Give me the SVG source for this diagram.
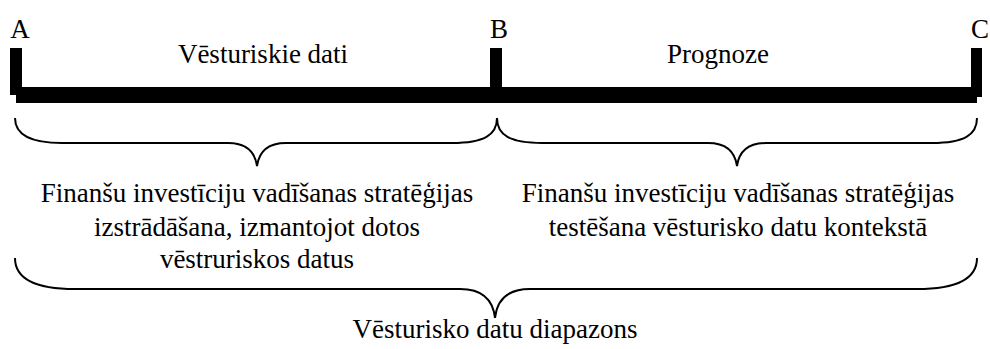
<svg xmlns="http://www.w3.org/2000/svg" width="990" height="349" viewBox="0 0 990 349">
<style>
text{font-family:"Liberation Serif","Times New Roman",serif;font-size:27px;fill:#000;text-anchor:middle}
.br{fill:none;stroke:#000;stroke-width:2}
</style>
<rect width="990" height="349" fill="#fff"/>
<g id="timeline">
<rect x="16" y="87" width="961" height="16" fill="#000"/>
<rect x="10" y="48" width="12" height="47" fill="#000"/>
<rect x="490" y="48" width="12" height="48" fill="#000"/>
<rect x="971" y="48" width="11" height="49" fill="#000"/>
</g>
<g id="labelA"><text x="20" y="38">A</text></g>
<g id="labelB"><text x="499" y="38">B</text></g>
<g id="labelC"><text x="980" y="38">C</text></g>
<g id="hist"><text x="263" y="63">Vēsturiskie dati</text></g>
<g id="prog"><text x="718" y="63">Prognoze</text></g>
<g id="connectors">
<path class="br" d="M15,118 C15,135 30,143 62,143 L228,143 C246,143 255,152 257,166 C259,152 268,143 286,143 L452,143 C484,143 497,135 497,118"/>
<path class="br" d="M497,118 C497,135 510,143 542,143 L708,143 C726,143 735,152 737,166 C739,152 748,143 766,143 L932,143 C964,143 977,135 977,118"/>
<path class="br" d="M15,258 C15,278 35,289 75,289 L460,289 C482,289 493,300 495,318 C497,300 508,289 530,289 L917,289 C957,289 977,278 977,258"/>
</g>
<g id="leftDesc">
<text x="257" y="202">Finanšu investīciju vadīšanas stratēģijas</text>
<text x="257" y="236">izstrādāšana, izmantojot dotos</text>
<text x="257" y="268">vēstruriskos datus</text>
</g>
<g id="rightDesc">
<text x="738" y="202">Finanšu investīciju vadīšanas stratēģijas</text>
<text x="738" y="236">testēšana vēsturisko datu kontekstā</text>
</g>
<g id="range"><text x="495" y="338">Vēsturisko datu diapazons</text></g>
</svg>
